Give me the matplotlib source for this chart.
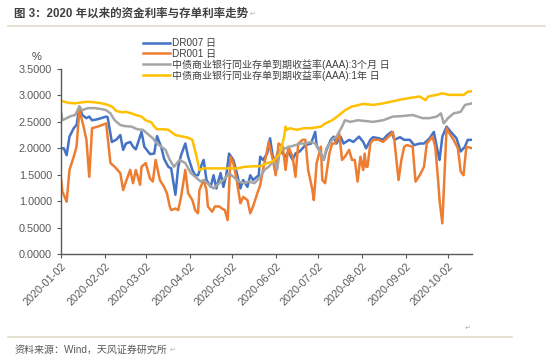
import matplotlib
matplotlib.use("Agg")
import matplotlib.pyplot as plt
import pandas as pd
from matplotlib.lines import Line2D

plt.rcParams['font.family'] = ['Liberation Sans', 'Noto Sans CJK SC', 'DejaVu Sans']

# ---- data ----
dr007_dates = ["01-02", "01-04", "01-06", "01-08", "01-11", "01-13", "01-15", "01-17", "01-20", "01-22",
               "01-24", "01-28", "02-03", "02-04", "02-07", "02-10", "02-13", "02-15", "02-17", "02-20",
               "02-22", "02-24", "02-28", "03-01", "03-05", "03-08", "03-10", "03-13", "03-15", "03-18",
               "03-20", "03-23", "03-25", "03-27", "03-30", "04-01", "04-04", "04-06", "04-08", "04-11",
               "04-12", "04-14", "04-17", "04-19", "04-21", "04-24", "04-26", "04-28", "04-30", "05-03",
               "05-05", "05-08", "05-10", "05-13", "05-15", "05-17", "05-21", "05-22", "05-24", "05-27",
               "05-29", "05-31", "06-02", "06-04", "06-07", "06-09", "06-11", "06-14", "06-16", "06-19",
               "06-23", "06-27", "06-30", "07-01", "07-04", "07-06", "07-08", "07-11", "07-13", "07-15",
               "07-18", "07-20", "07-24", "07-27", "07-31", "08-03", "08-05", "08-08", "08-10", "08-14",
               "08-17", "08-20", "08-23", "08-25", "08-29", "09-01", "09-05", "09-08", "09-12", "09-15",
               "09-19", "09-22", "09-25", "09-26", "09-28", "10-01", "10-04", "10-08", "10-11", "10-14",
               "10-16", "10-19"]
dr007 = [2.00, 2.00, 1.87, 2.22, 2.38, 2.44, 2.79, 2.63, 2.57, 2.60,
         2.53, 2.55, 2.60, 2.59, 2.12, 2.16, 2.25, 1.97, 2.09, 2.12,
         2.03, 1.98, 2.31, 2.03, 1.89, 1.90, 2.23, 2.02, 1.80, 1.65,
         1.62, 1.12, 1.65, 1.87, 2.09, 1.84, 1.59, 1.49, 1.49, 1.72,
         1.78, 1.40, 1.27, 1.49, 1.24, 1.53, 1.27, 1.49, 1.90, 1.78,
         1.59, 1.24, 1.40, 1.27, 1.49, 1.40, 1.49, 1.84, 1.78, 1.90,
         2.19, 1.84, 1.78, 1.97, 1.90, 1.84, 1.94, 1.78, 1.90, 1.94,
         2.06, 2.09, 2.31, 2.06, 1.90, 1.78, 1.97, 2.16, 2.22, 2.09,
         2.22, 2.09, 2.16, 2.12, 2.22, 2.12, 2.00, 2.16, 2.21, 2.19,
         2.16, 2.25, 2.31, 2.16, 2.21, 2.16, 2.16, 2.06, 2.09, 2.09,
         2.19, 2.31, 1.90, 1.78, 2.22, 2.41, 2.31, 2.19, 1.94, 2.03,
         2.16, 2.16]

dr001_dates = ["01-02", "01-03", "01-06", "01-08", "01-11", "01-13", "01-15", "01-18", "01-20", "01-22",
               "01-24", "01-28", "02-03", "02-06", "02-09", "02-13", "02-15", "02-17", "02-20", "02-22",
               "02-24", "02-27", "02-28", "03-02", "03-05", "03-07", "03-09", "03-12", "03-15", "03-17",
               "03-19", "03-20", "03-23", "03-25", "03-27", "03-30", "04-01", "04-04", "04-06", "04-08",
               "04-09", "04-12", "04-14", "04-15", "04-18", "04-20", "04-23", "04-25", "04-27", "04-29",
               "05-01", "05-03", "05-05", "05-08", "05-10", "05-13", "05-15", "05-17", "05-20", "05-22",
               "05-24", "05-27", "05-28", "05-31", "06-02", "06-04", "06-07", "06-09", "06-11", "06-14",
               "06-16", "06-18", "06-21", "06-23", "06-25", "06-28", "06-29", "07-01", "07-04", "07-05",
               "07-07", "07-10", "07-12", "07-14", "07-17", "07-19", "07-21", "07-24", "07-26", "07-28",
               "07-30", "08-01", "08-03", "08-04", "08-05", "08-06", "08-08", "08-10", "08-14", "08-17",
               "08-21", "08-24", "08-25", "08-28", "08-30", "09-01", "09-03", "09-07", "09-09", "09-12",
               "09-15", "09-17", "09-21", "09-23", "09-25", "09-26", "09-28", "10-01", "10-03", "10-06",
               "10-09", "10-11", "10-13", "10-15", "10-19"]
dr001 = [1.43, 1.18, 0.99, 1.59, 1.84, 2.03, 2.72, 2.41, 2.16, 1.46,
         2.38, 2.41, 2.47, 1.72, 1.65, 1.53, 1.21, 1.37, 1.59, 1.34,
         1.59, 1.31, 1.65, 1.72, 1.43, 1.37, 1.78, 1.40, 1.27, 1.15,
         0.90, 0.83, 0.86, 0.83, 1.08, 1.59, 1.15, 1.02, 0.83, 0.77,
         1.21, 1.40, 1.21, 0.90, 0.80, 0.90, 0.90, 0.86, 0.83, 0.64,
         1.84, 1.72, 1.46, 0.96, 1.08, 1.02, 0.77, 0.90, 1.15, 1.30,
         1.59, 1.97, 2.12, 1.78, 1.49, 2.09, 2.03, 1.59, 2.03, 1.84,
         1.46, 2.09, 2.16, 2.16, 1.59, 1.21, 1.02, 1.72, 2.03, 1.40,
         1.34, 1.90, 2.09, 2.09, 2.28, 1.78, 1.84, 1.97, 1.78, 1.78,
         1.37, 1.84, 1.59, 1.90, 1.65, 1.65, 2.09, 2.16, 2.16, 2.12,
         2.22, 2.31, 2.16, 1.40, 1.78, 2.03, 2.06, 2.03, 1.37, 1.49,
         1.65, 2.09, 2.22, 2.03, 1.40, 1.02, 0.58, 2.38, 2.28, 2.16,
         2.00, 1.56, 1.49, 2.03, 2.00]

ncd3m_dates = ["01-02", "01-03", "01-06", "01-09", "01-12", "01-15", "01-17", "01-21", "01-26", "01-31",
               "02-03", "02-06", "02-09", "02-13", "02-16", "02-21", "02-25", "02-29", "03-03", "03-07",
               "03-10", "03-13", "03-16", "03-19", "03-22", "03-26", "03-30", "04-03", "04-06", "04-10",
               "04-12", "04-16", "04-19", "04-23", "04-26", "04-30", "05-03", "05-07", "05-11", "05-14",
               "05-18", "05-22", "05-25", "05-28", "06-01", "06-03", "06-05", "06-09", "06-12", "06-16",
               "06-19", "06-23", "06-27", "06-30", "07-04", "07-06", "07-08", "07-12", "07-15", "07-19",
               "07-21", "07-25", "07-30", "08-03", "08-10", "08-17", "08-24", "08-31", "09-07", "09-14",
               "09-19", "09-24", "09-27", "09-29", "10-02", "10-06", "10-11", "10-14", "10-19"]
ncd3m = [2.69, 2.53, 2.57, 2.61, 2.63, 2.79, 2.72, 2.76, 2.76, 2.74,
         2.72, 2.66, 2.53, 2.44, 2.42, 2.41, 2.36, 2.35, 2.28, 2.19,
         2.09, 2.03, 1.97, 1.78, 1.65, 1.78, 1.72, 1.53, 1.46, 1.37,
         1.40, 1.31, 1.24, 1.34, 1.40, 1.53, 1.46, 1.37, 1.34, 1.37,
         1.34, 1.45, 1.59, 1.65, 1.78, 1.59, 1.97, 2.00, 2.03, 2.06,
         2.09, 2.09, 2.12, 2.09, 1.90, 1.78, 2.00, 2.16, 2.22, 2.41,
         2.53, 2.50, 2.53, 2.52, 2.50, 2.53, 2.60, 2.61, 2.63, 2.57,
         2.57, 2.60, 2.66, 2.47, 2.57, 2.66, 2.69, 2.82, 2.85]

ncd1y_dates = ["01-02", "01-07", "01-12", "01-17", "01-21", "01-26", "01-31", "02-03", "02-07", "02-10",
               "02-14", "02-17", "02-21", "02-24", "02-28", "03-02", "03-06", "03-08", "03-10", "03-14",
               "03-18", "03-23", "04-01", "04-04", "04-07", "04-09", "04-12", "04-24", "05-06", "05-11",
               "05-18", "05-22", "05-27", "05-31", "06-03", "06-05", "06-08", "06-09", "06-10", "06-12",
               "06-17", "06-22", "06-27", "07-04", "07-07", "07-12", "07-17", "07-21", "07-26", "07-31",
               "08-03", "08-10", "08-17", "08-24", "08-31", "09-07", "09-12", "09-16", "09-18", "09-24",
               "09-28", "10-03", "10-13", "10-16", "10-19"]
ncd1y = [2.90, 2.86, 2.85, 2.87, 2.88, 2.87, 2.85, 2.83, 2.79, 2.71,
         2.68, 2.69, 2.66, 2.63, 2.60, 2.53, 2.49, 2.41, 2.36, 2.36,
         2.35, 2.25, 2.20, 2.16, 1.84, 1.59, 1.62, 1.62, 1.62, 1.65,
         1.66, 1.66, 1.72, 1.75, 1.84, 1.90, 2.22, 2.41, 2.35, 2.38,
         2.35, 2.38, 2.38, 2.41, 2.47, 2.53, 2.63, 2.72, 2.79, 2.82,
         2.84, 2.82, 2.85, 2.89, 2.93, 2.96, 2.98, 2.91, 2.98, 3.01,
         3.04, 3.01, 3.01, 3.07, 3.08]

labels = ["DR007 日", "DR001 日",
          "中债商业银行同业存单到期收益率(AAA):3个月 日",
          "中债商业银行同业存单到期收益率(AAA):1年 日"]
colors = ["#4472C4", "#ED7D31", "#A5A5A5", "#FFC000"]
tick_labels = ["2020-01-02", "2020-02-02", "2020-03-02", "2020-04-02", "2020-05-02",
               "2020-06-02", "2020-07-02", "2020-08-02", "2020-09-02", "2020-10-02"]

title = "图 3：2020 年以来的资金利率与存单利率走势"
source = "资料来源：Wind，天风证券研究所"


def to_dates(md):
    return pd.to_datetime(["2020-" + s for s in md])


series = [(dr007_dates, dr007), (dr001_dates, dr001), (ncd3m_dates, ncd3m), (ncd1y_dates, ncd1y)]

fig = plt.figure(figsize=(5.5, 3.64), dpi=100)
ax = fig.add_axes([61 / 550, 1 - 254 / 364, (472 - 61) / 550, (254 - 69) / 364])

for (d, v), c, lab in zip(series, colors, labels):
    ax.plot(to_dates(d), v, color=c, lw=1.8, label=lab, solid_joinstyle='round')

ax.set_ylim(0, 3.5)
ax.set_yticks([0, 0.5, 1.0, 1.5, 2.0, 2.5, 3.0, 3.5])
ax.set_yticklabels(["%.4f" % t for t in ax.get_yticks()])
ax.set_xlim(pd.Timestamp("2020-01-02"), pd.Timestamp("2020-10-19"))
ax.set_xticks(pd.to_datetime(tick_labels))
ax.set_xticklabels(tick_labels, rotation=45, ha='right', va='top', rotation_mode='anchor')

for s in ['top', 'right']:
    ax.spines[s].set_visible(False)
for s in ['left', 'bottom']:
    ax.spines[s].set_color('#595959')
    ax.spines[s].set_linewidth(1.0)
ax.tick_params(axis='both', colors='#595959', labelsize=7.8, length=3, width=0.8, labelcolor='#595959')
ax.tick_params(axis='x', pad=2)

fig.text(37 / 550, 1 - 57 / 364, "%", fontsize=8, color='#404040', ha='center', va='center')

handles = [Line2D([], [], color=c, lw=1.8) for c in colors]
fig.legend(handles, labels, loc='upper left', bbox_to_anchor=(143 / 550, 1 - 38 / 364),
           frameon=False, fontsize=7.2, handlelength=2.7, handletextpad=0.15,
           labelspacing=0.05, borderpad=0, borderaxespad=0, labelcolor='#404040')

# header / footer like the report page
t = fig.text(14 / 550, 1 - 14 / 364, title, fontsize=8.3, fontweight='bold', color='#404040',
             ha='left', va='center')
src = fig.text(15 / 550, 1 - 350 / 364, source, fontsize=7.2, color='#595959', ha='left', va='center')
for artist in (t, src):
    fig.text(0, 0, "↵", fontsize=5, color='#B0B0B0', ha='left', va='center',
             family=['DejaVu Sans'],
             transform=matplotlib.transforms.offset_copy(
                 matplotlib.transforms.Affine2D(), fig=fig, x=0, y=0))
fig.add_artist(Line2D([8 / 550, 545 / 550], [1 - 26 / 364, 1 - 26 / 364], color='#E3DCCB', lw=1.2))
fig.add_artist(Line2D([8 / 550, 512 / 550], [1 - 337 / 364, 1 - 337 / 364], color='#E3DCCB', lw=1.2))
fig.text(468 / 550, 1 - 328 / 364, "↵", fontsize=5, color='#B0B0B0', ha='center', va='center',
         family=['DejaVu Sans'])

# place the small return marks right after the title and source texts
fig.canvas.draw()
r = fig.canvas.get_renderer()
for m, artist in zip(fig.texts[-3:-1], (t, src)):
    bb = artist.get_window_extent(r)
    m.set_transform(matplotlib.transforms.IdentityTransform())
    m.set_position((bb.x1 + 1.5, (bb.y0 + bb.y1) / 2))

fig.savefig("out.png", dpi=100)
